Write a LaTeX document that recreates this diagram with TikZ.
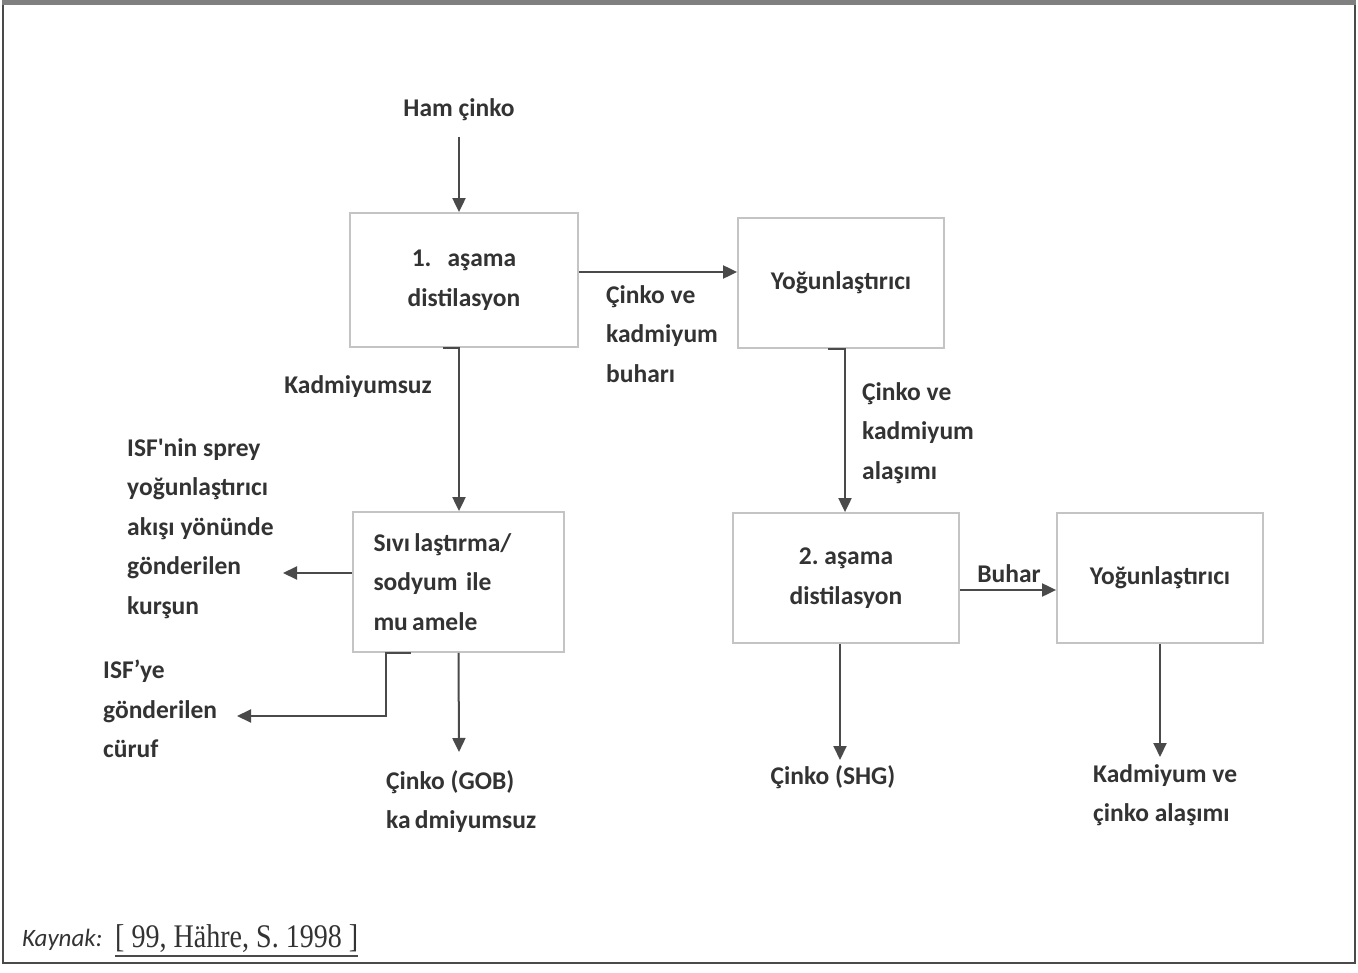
\documentclass[tikz,border=0pt]{standalone}
\usepackage{fontspec}
\setmainfont{Carlito}
\newfontfamily\serifref{Liberation Serif}
\usetikzlibrary{arrows.meta}
\definecolor{txt}{HTML}{333333}
\definecolor{ln}{HTML}{4A4A4A}
\definecolor{bx}{HTML}{C4C4C4}
\frenchspacing
\begin{document}
\begin{tikzpicture}[x=1pt,y=-1pt,
  every node/.style={text=txt, inner sep=0, font=\fontsize{25.5}{39.5}\selectfont\bfseries},
  box/.style={draw=bx, line width=1.8pt, fill=white},
  lab/.style={align=left, anchor=north west},
  flow/.style={draw=ln, line width=2pt, -{Triangle[length=14pt,width=13pt]}},
]
\useasboundingbox (0,0) rectangle (1358,973);
\fill[white] (0,0) rectangle (1358,973);
\draw[line width=2.5pt, draw=ln] (3,3) rectangle (1355,963);
\draw[line width=5pt, draw=gray] (2,3) -- (1356,3);

% boxes
\node[box, minimum width=228, minimum height=134, align=center] (s1) at (464,280) {1.\hspace{16pt}aşama\\distilasyon};
\node[box, minimum width=206, minimum height=130] (c1) at (841,283) {Yoğunlaştırıcı};
\node[box, minimum width=211, minimum height=140, text width=170, align=left] (t1) at (458.5,582) {Sıvı\,laştırma/\\sodyum ile\\mu\,amele};
\node[box, minimum width=226, minimum height=130, align=center] (s2) at (846,578) {2. aşama\\distilasyon};
\node[box, minimum width=206, minimum height=130] (c2) at (1160,578) {Yoğunlaştırıcı};

% labels
\node (ham) at (459,110) {Ham çinko};
\node (kadsuz) at (358,387) {Kadmiyumsuz};
\node[lab] (buhar1) at (606,285) {Çinko ve\\kadmiyum\\buharı};
\node[lab] (alasim) at (862,382) {Çinko ve\\kadmiyum\\alaşımı};
\node[lab] (kursun) at (127,438) {ISF\textquotesingle nin sprey\\yoğunlaştırıcı\\akışı yönünde\\gönderilen\\kurşun};
\node[lab] (curuf) at (103,660) {ISF’ye\\gönderilen\\cüruf};
\node[lab] (gob) at (386,770) {Çinko (GOB)\\ka\,dmiyumsuz};
\node (buhar2) at (1009,574) {Buhar};
\node (shg) at (833,777) {Çinko (SHG)};
\node[lab] (alasim2) at (1093,764) {Kadmiyum ve\\çinko alaşımı};

% free ends
\coordinate (hamtop) at (459,137);
\coordinate (kurtip) at (283,573);
\coordinate (curtip) at (237,716);
\coordinate (gobtip) at (459,752);
\coordinate (shgtip) at (840,760);
\coordinate (alatip) at (1160,757);

% connectors
\draw[flow] (hamtop) -- (hamtop |- s1.north);
\draw[flow] ([yshift=8pt]s1.east) -- ([yshift=8pt]s1.east -| c1.west);
\draw[flow] ([xshift=-21pt]s1.south) -- ([xshift=-5pt]s1.south) -- ([xshift=-5pt]s1.south |- t1.north);
\draw[flow] ([yshift=9pt]t1.west) -- (kurtip);
\draw[flow] ([xshift=-48pt]t1.south) -- ([xshift=-73pt]t1.south) |- (curtip);
\draw[flow] (t1.south) -- (gobtip);
\draw[flow] ([xshift=-13pt]c1.south) -- ([xshift=4pt]c1.south) -- ([xshift=4pt]c1.south |- s2.north);
\draw[flow] ([yshift=-12pt]s2.east) -- ([yshift=-12pt]s2.east -| c2.west);
\draw[flow] ([xshift=-6pt]s2.south) -- (shgtip);
\draw[flow] (c2.south) -- (alatip);

% footer
\node[anchor=base west, font=\fontsize{25}{30}\selectfont\itshape] (kay) at (22,946) {Kaynak:};
\node[anchor=base west, font=\fontsize{33}{36}\serifref] (ref) at (115,947) {\scalebox{0.85}[1]{[ 99, Hähre, S. 1998 ]}};
\draw[draw=ln, line width=1.3pt] ([yshift=-9pt]ref.base west) -- ([yshift=-9pt]ref.base east);
\end{tikzpicture}
\end{document}
